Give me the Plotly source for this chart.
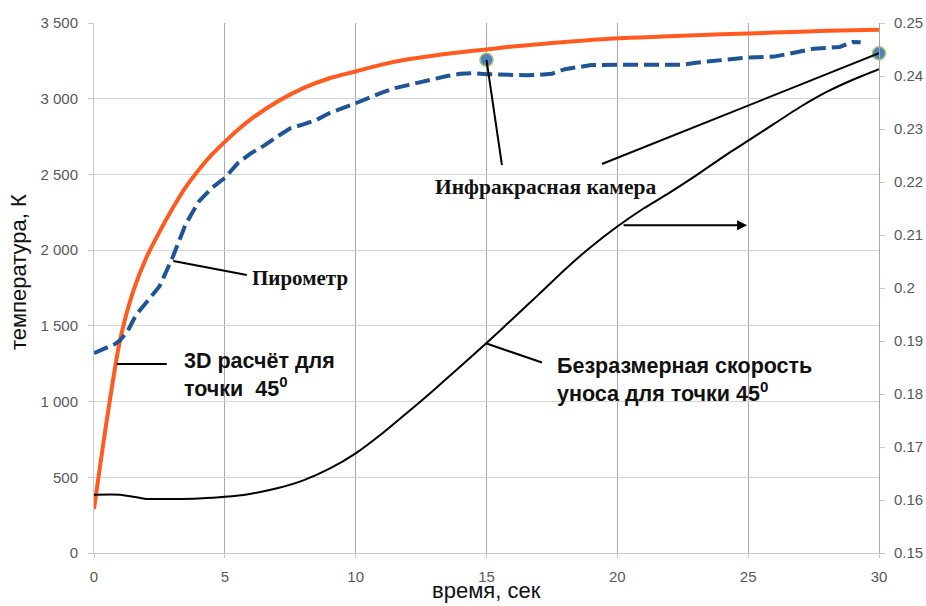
import plotly.graph_objects as go

# ---- data ----
t_pyro = [0, 0.5, 1, 1.5, 2, 2.5, 3, 3.5, 4, 4.5, 5, 5.5, 6, 7, 8, 9, 10, 11, 12, 13, 14,
          15, 16, 17, 18, 19, 20, 22, 24, 26, 28, 30]
T_pyro = [290, 890, 1410, 1730, 1950, 2120, 2275, 2415, 2530, 2630, 2715, 2795, 2865,
          2980, 3070, 3135, 3180, 3225, 3260, 3285, 3307, 3325, 3345, 3360, 3375, 3388,
          3400, 3412, 3425, 3437, 3448, 3455]

t_ir = [0, 0.5, 0.8, 1, 1.3, 1.6, 2, 2.5, 3, 3.5, 4, 4.5, 5, 5.5, 6, 6.5, 7, 7.5, 8,
        8.5, 9, 9.5, 10, 11, 11.5, 12, 12.5, 13, 13.5, 14, 14.5, 15, 15.5, 16, 16.5, 17,
        17.5, 18, 18.5, 19, 20, 21, 22, 22.5, 23, 23.5, 24, 25, 26, 26.5, 27, 27.5, 28,
        28.5, 29, 29.3]
T_ir = [1320, 1355, 1380, 1405, 1470, 1570, 1650, 1760, 1950, 2170, 2320, 2410, 2477,
        2575, 2640, 2690, 2750, 2805, 2830, 2860, 2905, 2935, 2970, 3040, 3070, 3090,
        3110, 3135, 3150, 3165, 3168, 3162, 3160, 3155, 3155, 3158, 3165, 3195, 3210,
        3222, 3224, 3224, 3224, 3225, 3238, 3248, 3255, 3272, 3278, 3295, 3310, 3330,
        3335, 3342, 3375, 3373]

t_pts = [15, 30]
T_pts = [3257, 3300]

t_abl = list(range(0, 31))
v_abl = [0.1610, 0.1610, 0.1602, 0.1602, 0.1603, 0.1606, 0.1612, 0.1622, 0.1637,
         0.1659, 0.1688, 0.1725, 0.1766, 0.1808, 0.1852, 0.1896, 0.1942, 0.1988,
         0.2035, 0.2078, 0.2116, 0.2150, 0.2180, 0.2212, 0.2246, 0.2278, 0.2310,
         0.2342, 0.2370, 0.2393, 0.2413]

y_ticks = [0, 500, 1000, 1500, 2000, 2500, 3000, 3500]
y_ticktext = ["0", "500", "1 000", "1 500", "2 000", "2 500", "3 000", "3 500"]
y2_ticks = [0.15, 0.16, 0.17, 0.18, 0.19, 0.20, 0.21, 0.22, 0.23, 0.24, 0.25]
y2_ticktext = ["0.15", "0.16", "0.17", "0.18", "0.19", "0.2", "0.21", "0.22", "0.23",
               "0.24", "0.25"]
x_ticks = [0, 5, 10, 15, 20, 25, 30]

SANS = "Liberation Sans, Arial, sans-serif"
SERIF = "Liberation Serif, Times New Roman, serif"
TICKC = "#595959"

fig = go.Figure()
fig.add_trace(go.Scatter(x=t_pyro, y=T_pyro, mode="lines",
                         line=dict(color="#FF5A1F", width=4, shape="spline",
                                   smoothing=0.8),
                         showlegend=False))
fig.add_trace(go.Scatter(x=t_ir, y=T_ir, mode="lines",
                         line=dict(color="#1F5597", width=4, dash="15px,6px"),
                         showlegend=False))
fig.add_trace(go.Scatter(x=t_abl, y=v_abl, mode="lines", yaxis="y2",
                         line=dict(color="#000000", width=2, shape="spline",
                                   smoothing=0.6),
                         showlegend=False))

# leader lines (data coordinates on left axis)
lines = [
    ((3.03, 1928), (5.84, 1836)),
    ((15.0, 3257), (15.59, 2561)),
    ((19.41, 2569), (30.0, 3300)),
    ((0.87, 1248), (2.78, 1248)),
    ((15.0, 1383), (17.12, 1258)),
]
for (x0, y0), (x1, y1) in lines:
    fig.add_shape(type="line", xref="x", yref="y", x0=x0, y0=y0, x1=x1, y1=y1,
                  line=dict(color="black", width=2))

fig.add_trace(go.Scatter(x=t_pts, y=T_pts, mode="markers", cliponaxis=False,
                         marker=dict(size=13, color="#4F81BD",
                                     line=dict(color="#A4C46E", width=1.5)),
                         showlegend=False))

# arrow towards right axis
fig.add_annotation(x=24.96, y=2165, ax=20.18, ay=2165, xref="x", yref="y",
                   axref="x", ayref="y", text="", showarrow=True, arrowhead=2,
                   arrowsize=1, arrowwidth=2, arrowcolor="black", standoff=0)

# labels
fig.add_annotation(x=5.97, y=1816, xref="x", yref="y", xanchor="left", yanchor="middle",
                   text="<b>Пирометр</b>", showarrow=False,
                   font=dict(family=SERIF, size=21, color="#111"))
fig.add_annotation(x=12.95, y=2416, xref="x", yref="y", xanchor="left", yanchor="middle",
                   text="<b>Инфракрасная камера</b>", showarrow=False,
                   font=dict(family=SERIF, size=21.5, color="#111"))
fig.add_annotation(x=3.37, y=1173, xref="x", yref="y", xanchor="left", yanchor="middle",
                   align="left",
                   text="<b>3D расчёт для<br>точки  45<sup>0</sup></b>", showarrow=False,
                   font=dict(family=SANS, size=21.5, color="#111"))
fig.add_annotation(x=17.63, y=1142, xref="x", yref="y", xanchor="left", yanchor="middle",
                   align="left",
                   text="<b>Безразмерная скорость<br>уноса для точки 45<sup>0</sup></b>",
                   showarrow=False, font=dict(family=SANS, size=21.5, color="#111"))

# axis titles
fig.add_annotation(x=-0.0968, y=0.53, xref="paper", yref="paper", textangle=-90,
                   xanchor="center", yanchor="middle",
                   text="температура, К", showarrow=False,
                   font=dict(family=SANS, size=22, color="#111"))
fig.add_annotation(x=0.5, y=-0.099, xref="paper", yref="paper",
                   xanchor="center", yanchor="bottom",
                   text="время, сек", showarrow=False,
                   font=dict(family=SANS, size=22, color="#111"))

fig.update_layout(
    width=926, height=606,
    margin=dict(l=94, r=47, t=23, b=53, autoexpand=False),
    paper_bgcolor="white", plot_bgcolor="white",
    font=dict(family=SANS, size=15, color=TICKC),
    xaxis=dict(range=[0, 30], tickvals=x_ticks, showgrid=True, gridcolor="#A8A8A8",
               gridwidth=1, zeroline=False, showline=True, linecolor="#C8C8C8",
               ticks="outside", ticklen=4, tickcolor="#C8C8C8",
               ticklabelstandoff=6, automargin=False,
               tickfont=dict(family=SANS, size=15, color=TICKC)),
    yaxis=dict(range=[0, 3500], tickvals=y_ticks, ticktext=y_ticktext, showgrid=True,
               gridcolor="#D4D4D4", gridwidth=1, zeroline=False, showline=True,
               linecolor="#C8C8C8", ticks="outside", ticklen=5, tickcolor="#C8C8C8",
               ticklabelstandoff=7, automargin=False,
               tickfont=dict(family=SANS, size=15, color=TICKC)),
    yaxis2=dict(range=[0.15, 0.25], tickvals=y2_ticks, ticktext=y2_ticktext,
                overlaying="y", side="right", showgrid=False, zeroline=False,
                showline=True, linecolor="#A8A8A8", ticks="outside", ticklen=5,
                tickcolor="#C8C8C8", ticklabelstandoff=6, automargin=False,
                tickfont=dict(family=SANS, size=15, color=TICKC)),
)

fig.write_html("out.html")
